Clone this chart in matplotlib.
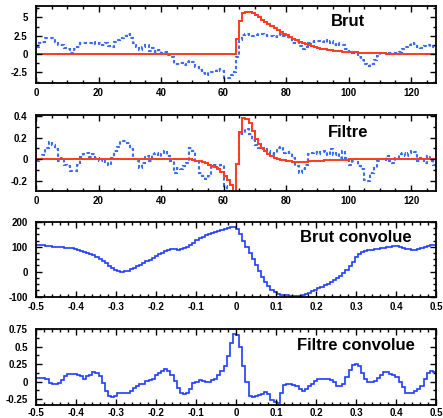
import numpy as np
import matplotlib
matplotlib.use("Agg")
import matplotlib.pyplot as plt
from matplotlib.ticker import MultipleLocator

plt.rcParams['font.family'] = ['Liberation Sans', 'DejaVu Sans']
plt.rcParams['font.weight'] = 'bold'
plt.rcParams['axes.unicode_minus'] = False

# ---- data: 128 bins each ----
brut_signal = [0.0] * 64 + [
    2.0, 4.5, 5.6, 5.8, 5.8, 5.6, 5.3, 5.0, 4.7, 4.4, 4.1, 3.8, 3.5, 3.25, 3.0, 2.8,
    2.6, 2.35, 2.1, 1.9, 1.7, 1.5, 1.35, 1.2, 1.05, 0.95, 0.85, 0.75, 0.67, 0.6, 0.53, 0.47,
    0.42, 0.38, 0.34, 0.31, 0.28, 0.25, 0.22, 0.2, 0.18, 0.16, 0.14, 0.13, 0.11, 0.1, 0.09, 0.08,
    0.07, 0.06, 0.05, 0.05, 0.04, 0.04, 0.03, 0.03, 0.03, 0.02, 0.02, 0.02, 0.02, 0.01, 0.01, 0.01]

brut_noisy = [
    1.0, 1.5, 1.7, 2.2, 2.2, 2.2, 1.7, 1.3, 1.2, 0.8, 0.65, 0.2, 0.65, 1.0, 1.55, 1.55,
    1.45, 1.45, 1.7, 1.4, 1.45, 1.2, 1.45, 1.1, 1.0, 1.7, 1.9, 2.2, 2.45, 2.7, 2.15, 1.45,
    1.0, 0.55, 0.9, 1.3, 0.45, 0.8, 0.3, 0.55, 0.2, 0.3, -0.15, -0.45, -1.3, -1.3, -1.2, -1.5,
    -1.05, -0.9, -1.05, -1.75, -2.2, -2.65, -2.9, -2.4, -2.4, -2.3, -2.0, -2.3, -3.2, -3.2, -2.9, -2.4,
    -0.35, 1.9, 2.6, 2.8, 2.6, 2.45, 2.6, 2.7, 2.7, 2.6, 2.45, 2.4, 2.3, 2.6, 2.7, 2.4,
    2.3, 2.0, 1.55, 1.7, 1.1, 0.65, 1.0, 1.45, 1.7, 1.8, 1.8, 1.7, 1.9, 1.55, 1.8, 1.2,
    1.45, 1.3, 1.2, 0.65, 0.3, 0.2, 0.1, -0.35, -0.8, -1.3, -1.65, -1.3, -0.8, -0.25, 0.1, 0.2,
    0.0, 0.2, 0.2, 0.1, 0.3, 0.65, 1.0, 1.2, 1.45, 1.4, 1.0, 0.8, 1.1, 1.2, 1.0, 1.1]

filtre_signal = [0.0] * 50 + [
    -0.01, -0.015, -0.02, -0.025, -0.035, -0.05, -0.06, -0.075, -0.09, -0.12, -0.16, -0.19, -0.235, -0.32,
    -0.045, 0.25, 0.38, 0.375, 0.335, 0.26, 0.19, 0.14, 0.105, 0.075, 0.05, 0.03, 0.015, 0.005,
    -0.005, -0.01, -0.015, -0.02, -0.022, -0.025, -0.025, -0.025, -0.022, -0.02, -0.02, -0.018,
    -0.015, -0.013, -0.012, -0.01, -0.008, -0.007, -0.006, -0.005, -0.004, -0.003, -0.002,
    -0.002, -0.001] + [0.0] * 25

filtre_noisy = [
    -0.02, 0.005, 0.04, 0.1, 0.16, 0.13, 0.09, -0.02, 0.01, -0.05, -0.065, -0.105, -0.105, -0.05, 0.02, 0.045,
    0.06, 0.02, 0.05, 0.01, -0.02, 0.005, -0.025, -0.05, 0.01, 0.075, 0.11, 0.17, 0.17, 0.15, 0.09, 0.0,
    -0.02, -0.08, -0.035, 0.03, -0.02, 0.05, 0.06, 0.0, 0.045, 0.075, 0.03, -0.02, -0.125, -0.08, -0.095, -0.065,
    -0.035, 0.1, 0.075, -0.02, -0.125, -0.16, -0.18, -0.16, -0.075, -0.055, -0.085, -0.05, -0.25, -0.32, -0.32, -0.3,
    -0.045, 0.23, 0.245, 0.28, 0.23, 0.18, 0.13, 0.1, 0.09, 0.105, 0.075, 0.045, 0.06, 0.105, 0.11, 0.06,
    0.07, 0.06, 0.01, -0.065, -0.125, -0.095, -0.055, 0.045, 0.06, 0.07, 0.045, 0.07, 0.08, 0.04, 0.09, 0.04,
    0.06, 0.01, 0.08, 0.01, -0.055, -0.02, 0.0, -0.065, -0.095, -0.19, -0.2, -0.125, -0.08, -0.02, 0.0, -0.01,
    0.03, -0.02, -0.035, 0.01, 0.045, 0.06, 0.03, 0.06, 0.075, 0.07, -0.02, 0.01, -0.035, 0.03, -0.02, -0.05]

brut_conv = [
    108, 107, 106, 104, 102, 100, 99, 98, 98, 97, 96, 94, 91, 88, 85, 81,
    77, 72, 66, 60, 52, 43, 33, 23, 13, 5, 1, 0, 1, 4, 9, 15,
    21, 28, 35, 42, 49, 56, 63, 70, 77, 84, 89, 91, 90, 89, 90, 94,
    100, 108, 117, 126, 134, 141, 147, 152, 157, 161, 165, 169, 173, 177, 180, 178,
    170, 150, 125, 100, 75, 50, 25, 2, -20, -40, -57, -72, -83, -90, -93, -94,
    -95, -96, -96, -97, -97, -94, -89, -84, -79, -73, -67, -61, -55, -49, -42, -34,
    -26, -17, -7, 6, 22, 40, 58, 72, 80, 84, 86, 88, 90, 92, 94, 96,
    98, 100, 102, 102, 100, 97, 93, 90, 89, 89, 91, 95, 100, 104, 106, 107]

filtre_conv = [
    0.05, 0.05, 0.05, 0.03, -0.02, -0.035, -0.035, -0.02, 0.015, 0.075, 0.11, 0.11, 0.11, 0.09, 0.075, 0.04,
    0.075, 0.1, 0.135, 0.12, 0.075, -0.02, -0.13, -0.21, -0.22, -0.21, -0.16, -0.16, -0.16, -0.16, -0.135, -0.09,
    -0.065, -0.04, -0.035, 0.005, 0.015, 0.04, 0.1, 0.12, 0.155, 0.18, 0.155, 0.1, 0.005, -0.09, -0.16, -0.175,
    -0.16, -0.11, -0.02, -0.005, 0.015, 0.005, -0.005, -0.005, 0.015, 0.04, 0.1, 0.155, 0.22, 0.37, 0.55, 0.68,
    0.67, 0.49, 0.22, 0.0, -0.2, -0.22, -0.21, -0.19, -0.18, -0.15, -0.18, -0.27, -0.29, -0.3, -0.16, -0.05,
    -0.03, -0.03, -0.05, -0.07, -0.11, -0.13, -0.1, -0.07, -0.03, 0.01, 0.04, 0.04, 0.04, 0.03, 0.02, 0.0,
    -0.06, -0.07, -0.03, 0.07, 0.17, 0.23, 0.25, 0.22, 0.12, 0.04, 0.0, 0.0, 0.01, 0.05, 0.1, 0.13,
    0.13, 0.11, 0.1, 0.06, 0.0, -0.08, -0.16, -0.17, -0.17, -0.14, -0.1, -0.06, 0.03, 0.12, 0.15, 0.14]

edges_bins = np.arange(129)
edges_conv = np.linspace(-0.5, 0.5, 129)

W, H = 443, 418
fig = plt.figure(figsize=(W / 100, H / 100), dpi=100)

RED = '#ff3a1e'
BLUE_DOT = '#3a6cf5'
BLUE = '#1f3dff'


def make_axes(l, t, r, b):
    return fig.add_axes([l / W, 1 - b / H, (r - l) / W, (b - t) / H])


def style(ax, xmaj, xmin, ymaj, ymin, xpad=3.5):
    ax.xaxis.set_major_locator(MultipleLocator(xmaj))
    ax.xaxis.set_minor_locator(MultipleLocator(xmin))
    ax.yaxis.set_major_locator(MultipleLocator(ymaj))
    ax.yaxis.set_minor_locator(MultipleLocator(ymin))
    ax.tick_params(which='both', direction='in', top=True, right=True, labelsize=7, width=1)
    ax.tick_params(axis='x', which='major', length=4.5, pad=xpad)
    ax.tick_params(axis='y', which='major', length=4.5, pad=6)
    ax.tick_params(which='minor', length=2.2)
    for s in ax.spines.values():
        s.set_linewidth(1.3)
    ax.xaxis.set_major_formatter(lambda v, _: '%g' % round(v, 3))
    ax.yaxis.set_major_formatter(lambda v, _: '%g' % round(v, 3))


DASH = (0, (1.6, 1.2))

# Panel 1 : Brut
ax1 = make_axes(36, 6, 436, 83)
ax1.stairs(brut_noisy, edges_bins, baseline=None, color=BLUE_DOT, lw=1.5, linestyle=DASH)
ax1.stairs(brut_signal, edges_bins, baseline=None, color=RED, lw=1.4)
ax1.set_xlim(0, 128)
ax1.set_ylim(-3.95, 6.55)
style(ax1, 20, 5, 2.5, 1.25)
ax1.text(0.78, 0.8, 'Brut', transform=ax1.transAxes, ha='center', va='center', fontsize=12, fontweight='bold')

# Panel 2 : Filtre
ax2 = make_axes(36, 115, 436, 191)
ax2.stairs(filtre_noisy, edges_bins, baseline=None, color=BLUE_DOT, lw=1.5, linestyle=DASH)
ax2.stairs(filtre_signal, edges_bins, baseline=None, color=RED, lw=1.4)
ax2.set_xlim(0, 128)
ax2.set_ylim(-0.295, 0.41)
style(ax2, 20, 5, 0.2, 0.1)
ax2.text(0.78, 0.77, 'Filtre', transform=ax2.transAxes, ha='center', va='center', fontsize=12, fontweight='bold')

# Panel 3 : Brut convolue
ax3 = make_axes(36, 222, 436, 297)
ax3.stairs(brut_conv, edges_conv, baseline=None, color=BLUE, lw=1.2)
ax3.set_xlim(-0.5, 0.5)
ax3.set_ylim(-102, 200)
style(ax3, 0.1, 0.02, 100, 25)
ax3.text(0.8, 0.8, 'Brut convolue', transform=ax3.transAxes, ha='center', va='center', fontsize=12, fontweight='bold')

# Panel 4 : Filtre convolue
ax4 = make_axes(36, 329, 436, 405)
ax4.stairs(filtre_conv, edges_conv, baseline=None, color=BLUE, lw=1.2)
ax4.set_xlim(-0.5, 0.5)
ax4.set_ylim(-0.335, 0.75)
style(ax4, 0.1, 0.02, 0.25, 0.125, xpad=2.5)
ax4.text(0.8, 0.78, 'Filtre convolue', transform=ax4.transAxes, ha='center', va='center', fontsize=12, fontweight='bold')

fig.savefig('out.png', dpi=100)
